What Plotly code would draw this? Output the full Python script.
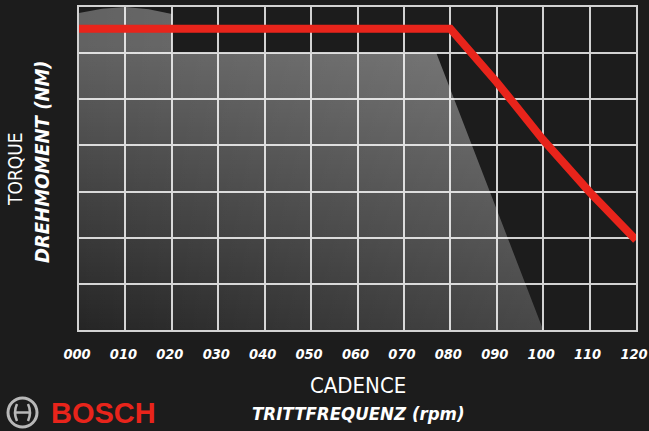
import plotly.graph_objects as go

# ---- data ----
cadence_ticks = [0, 10, 20, 30, 40, 50, 60, 70, 80, 90, 100, 110, 120]
tick_labels = ["000", "010", "020", "030", "040", "050", "060", "070", "080", "090", "100", "110", "120"]

torque_cadence = [0, 80, 90, 100, 110, 120]
torque_values = [65.3, 65.3, 53.7, 41.2, 29.9, 19.5]

area_cadence = [0, 0, 5, 10, 15, 20, 20, 77, 100]
area_values = [0, 68.7, 69.6, 70, 69.5, 68.5, 60, 60, 0]

BG = "#1c1c1c"
GRID = "#d2d2d2"
RED = "#e8241b"
NARROW = "Liberation Sans Narrow, Arial Narrow, DejaVu Sans Condensed, sans-serif"

W, H = 649, 431
L, R, T, B = 79, 13, 7, 101
PW, PH = W - L - R, H - T - B


def px(x):
    return (x - L) / PW


def py(y):
    return (H - B - y) / PH


fig = go.Figure()

fig.add_trace(go.Scatter(
    x=area_cadence, y=area_values, mode="lines", fill="toself",
    line=dict(width=0),
    fillgradient=dict(type="vertical", start=0, stop=62,
                      colorscale=[[0, "rgba(255,255,255,0.04)"], [1, "rgba(255,255,255,0.31)"]]),
    hoverinfo="skip", showlegend=False))
fig.add_trace(go.Scatter(
    x=area_cadence, y=area_values, mode="lines", fill="toself",
    line=dict(width=0),
    fillgradient=dict(type="horizontal", start=0, stop=100,
                      colorscale=[[0, "rgba(255,255,255,0.0)"], [1, "rgba(255,255,255,0.16)"]]),
    hoverinfo="skip", showlegend=False))

fig.add_trace(go.Scatter(
    x=torque_cadence, y=torque_values, mode="lines",
    line=dict(color=RED, width=8),
    hoverinfo="skip", showlegend=False))

axis_common = dict(showgrid=True, gridcolor=GRID, gridwidth=2,
                   showline=True, linecolor=GRID, linewidth=2, mirror=True,
                   zeroline=False, fixedrange=True, automargin=False)

fig.update_xaxes(range=[0, 120], tickvals=cadence_ticks, ticktext=tick_labels,
                 ticks="outside", ticklen=10, tickcolor="rgba(0,0,0,0)",
                 ticklabeloverflow="allow", ticklabelshift=-2,
                 tickfont=dict(family=NARROW, size=14.5, color="white", weight="bold", style="italic"),
                 **axis_common)
fig.update_yaxes(range=[0, 70], dtick=10, showticklabels=False, **axis_common)

ann = [
    dict(text="TORQUE", x=px(15), y=py(169), textangle=-90,
         font=dict(family=NARROW, size=19, color="white")),
    dict(text="<b><i>DREHMOMENT (NM)</i></b>", x=px(42), y=py(162), textangle=-90,
         font=dict(family=NARROW, size=20, color="white")),
    dict(text="CADENCE", x=px(358), y=py(385),
         font=dict(family=NARROW, size=22, color="white")),
    dict(text="<b><i>TRITTFREQUENZ (rpm)</i></b>", x=px(358), y=py(414),
         font=dict(family=NARROW, size=18.5, color="white")),
    dict(text="<b>BOSCH</b>", x=px(103), y=py(413),
         font=dict(family="Liberation Sans, Arial, sans-serif", size=29, color=RED)),
]
for a in ann:
    a.update(xref="paper", yref="paper", showarrow=False, xanchor="center", yanchor="middle")

logo = "#b8b8b8"
shapes = [
    dict(type="circle", xref="paper", yref="paper",
         x0=px(8), x1=px(37), y0=py(427), y1=py(398),
         line=dict(color=logo, width=3)),
    dict(type="path", xref="paper", yref="paper",
         path=f"M {px(17)},{py(404)} Q {px(13)},{py(412.5)} {px(17)},{py(421)}",
         line=dict(color=logo, width=2.5)),
    dict(type="path", xref="paper", yref="paper",
         path=f"M {px(28)},{py(404)} Q {px(32)},{py(412.5)} {px(28)},{py(421)}",
         line=dict(color=logo, width=2.5)),
    dict(type="line", xref="paper", yref="paper",
         x0=px(15), x1=px(30), y0=py(412.5), y1=py(412.5),
         line=dict(color=logo, width=2.5)),
]

fig.update_layout(
    width=W, height=H,
    margin=dict(l=L, r=R, t=T, b=B, autoexpand=False),
    paper_bgcolor=BG, plot_bgcolor=BG,
    annotations=ann, shapes=shapes,
    showlegend=False,
)

fig.write_html("out.html",
               config={"displayModeBar": False},
               post_script="document.body.style.margin='0';document.body.style.padding='0';"
                           "document.body.style.background='#1c1c1c';")
